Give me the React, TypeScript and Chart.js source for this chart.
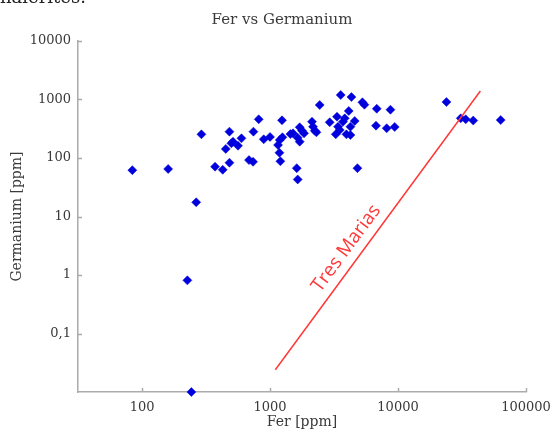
import { useEffect, useRef } from 'react';
import { Chart, registerables } from 'chart.js';

Chart.register(...registerables);

// Fer [ppm] (x) and Germanium [ppm] (y) of each sample
const ferPpm = [
  84, 160, 265, 226, 243, 291, 372, 427, 482, 482,
  451, 499, 514, 562, 598, 685, 737, 742, 816, 893,
  1000, 1155, 1184, 1205, 1241, 1191, 1250, 1443, 1512, 1617,
  1645, 1645, 1706, 1706, 1778, 1844, 2128, 2168, 2235, 2304,
  2445, 2926, 3337, 3400, 3505, 3261, 3718, 3835, 4121, 4249,
  4589, 3954, 4249, 3567, 4325, 5270, 5464, 6821, 8725, 6730,
  8160, 9420, 4819, 23900, 30900, 33800, 38700, 63400,
];
const germaniumPpm = [
  62, 65, 17.5, 0.81, 0.01, 254, 71, 63, 83, 282,
  143, 178, 190, 162, 217, 92, 86, 282, 459, 209,
  229, 167, 123, 88, 441, 203, 226, 257, 264, 67,
  43, 222, 190, 335, 293, 264, 418, 343, 293, 275,
  805, 408, 508, 343, 301, 254, 418, 477, 636, 343,
  429, 254, 247, 1194, 1104, 896, 815, 696, 669, 357,
  322, 339, 67, 906, 477, 459, 437, 445,
];

// "Tres Marias" reference line
const tresMariasFer = [1100, 44000];
const tresMariasGe = [0.024, 1400];
const tresMariasLabel = 'Tres Marias';
const tresMariasLabelFer = 3950;
const tresMariasLabelGe = 2.86;

const xTickValues = [100, 1000, 10000, 100000];
const xTickLabels = ['100', '1000', '10000', '100000'];
const yTickValues = [0.1, 1, 10, 100, 1000, 10000];
const yTickLabels = ['0,1', '1', '10', '100', '1000', '10000'];

const chartTitle = 'Fer vs Germanium';
const xTitle = 'Fer [ppm]';
const yTitle = 'Germanium [ppm]';
const clippedText = 'nalerites.';

const SERIF = '"DejaVu Serif", serif';
const TEXT = '#3a3a3a';
const AXIS = '#ababab';
const BLUE = '#0000dc';
const RED = 'rgb(255, 55, 55)';

const decorPlugin = {
  id: 'decor',
  afterDraw(chart: any) {
    const ctx = chart.ctx as CanvasRenderingContext2D;
    const xs = chart.scales.x;
    const ys = chart.scales.y;
    const area = chart.chartArea;
    ctx.save();

    // inward tick marks
    ctx.strokeStyle = AXIS;
    ctx.lineWidth = 1.5;
    ctx.beginPath();
    for (const v of yTickValues) {
      const py = Math.round(ys.getPixelForValue(v)) + 0.5;
      ctx.moveTo(area.left, py);
      ctx.lineTo(area.left + 4, py);
    }
    for (const v of xTickValues) {
      const px = Math.round(xs.getPixelForValue(v)) + 0.5;
      ctx.moveTo(px, area.bottom);
      ctx.lineTo(px, area.bottom - 4);
    }
    ctx.stroke();

    // title
    ctx.fillStyle = TEXT;
    ctx.font = '15px ' + SERIF;
    ctx.textAlign = 'center';
    ctx.textBaseline = 'middle';
    ctx.fillText(chartTitle, chart.width / 2 + 2, 20);

    // clipped document text at top-left
    ctx.fillStyle = '#222';
    ctx.font = '18px ' + SERIF;
    ctx.textAlign = 'left';
    ctx.textBaseline = 'alphabetic';
    ctx.fillText(clippedText, 0, 3);

    // Tres Marias label along the line
    const x0 = xs.getPixelForValue(tresMariasFer[0]);
    const y0 = ys.getPixelForValue(tresMariasGe[0]);
    const x1 = xs.getPixelForValue(tresMariasFer[1]);
    const y1 = ys.getPixelForValue(tresMariasGe[1]);
    const ang = Math.atan2(y1 - y0, x1 - x0);
    const ax = xs.getPixelForValue(tresMariasLabelFer);
    const ay = ys.getPixelForValue(tresMariasLabelGe);
    ctx.translate(ax, ay);
    ctx.rotate(ang);
    ctx.fillStyle = RED;
    ctx.font = '19px "Open Sans", sans-serif';
    ctx.textAlign = 'center';
    ctx.textBaseline = 'middle';
    ctx.fillText(tresMariasLabel, 0, 0);
    ctx.restore();
  },
};

export default function App() {
  const canvasRef = useRef<HTMLCanvasElement | null>(null);

  useEffect(() => {
    const canvas = canvasRef.current;
    if (!canvas) return;
    const points = ferPpm.map((x, i) => ({ x, y: germaniumPpm[i] }));
    const line = tresMariasFer.map((x, i) => ({ x, y: tresMariasGe[i] }));

    const chart = new Chart(canvas, {
      type: 'scatter',
      data: {
        datasets: [
          {
            data: line,
            showLine: true,
            borderColor: RED,
            borderWidth: 1.5,
            pointRadius: 0,
            fill: false,
          } as any,
          {
            data: points,
            pointStyle: 'rectRot',
            pointRadius: 4.5,
            pointBackgroundColor: BLUE,
            pointBorderColor: BLUE,
            pointBorderWidth: 0.5,
            clip: false,
          } as any,
        ],
      },
      options: {
        responsive: false,
        animation: false,
        events: [],
        layout: { padding: { top: 41, right: 34, left: 0, bottom: 0 } },
        plugins: {
          legend: { display: false },
          title: { display: false },
          tooltip: { enabled: false },
        },
        scales: {
          x: {
            type: 'logarithmic',
            min: 31.6,
            max: 100000,
            afterBuildTicks: (s: any) => {
              s.ticks = xTickValues.map((v) => ({ value: v }));
            },
            afterFit: (s: any) => {
              s.height = 40;
            },
            grid: { display: false, drawTicks: false },
            border: { display: true, color: AXIS, width: 1.5 },
            ticks: {
              autoSkip: false,
              maxRotation: 0,
              minRotation: 0,
              padding: 8,
              color: TEXT,
              font: { family: SERIF, size: 13 },
              callback: (_v: any, i: number) => xTickLabels[i],
            },
            title: {
              display: true,
              text: xTitle,
              color: TEXT,
              font: { family: SERIF, size: 14 },
              padding: { top: 0, bottom: 1 },
            },
          },
          y: {
            type: 'logarithmic',
            min: 0.01,
            max: 10000,
            afterBuildTicks: (s: any) => {
              s.ticks = yTickValues.map((v) => ({ value: v }));
            },
            afterFit: (s: any) => {
              s.width = 78;
            },
            grid: { display: false, drawTicks: false },
            border: { display: true, color: AXIS, width: 1.5 },
            ticks: {
              autoSkip: false,
              padding: 7,
              color: TEXT,
              font: { family: SERIF, size: 13 },
              callback: (_v: any, i: number) => yTickLabels[i],
            },
            title: {
              display: true,
              text: yTitle,
              color: TEXT,
              font: { family: SERIF, size: 14 },
              padding: { top: 9, bottom: 0 },
            },
          },
        },
      } as any,
      plugins: [decorPlugin],
    });

    return () => {
      chart.destroy();
    };
  }, []);

  return (
    <div style={{ position: 'absolute', left: 0, top: 0, width: 560, height: 432, background: '#fff' }}>
      <canvas ref={canvasRef} width={560} height={432} style={{ display: 'block' }} />
    </div>
  );
}
